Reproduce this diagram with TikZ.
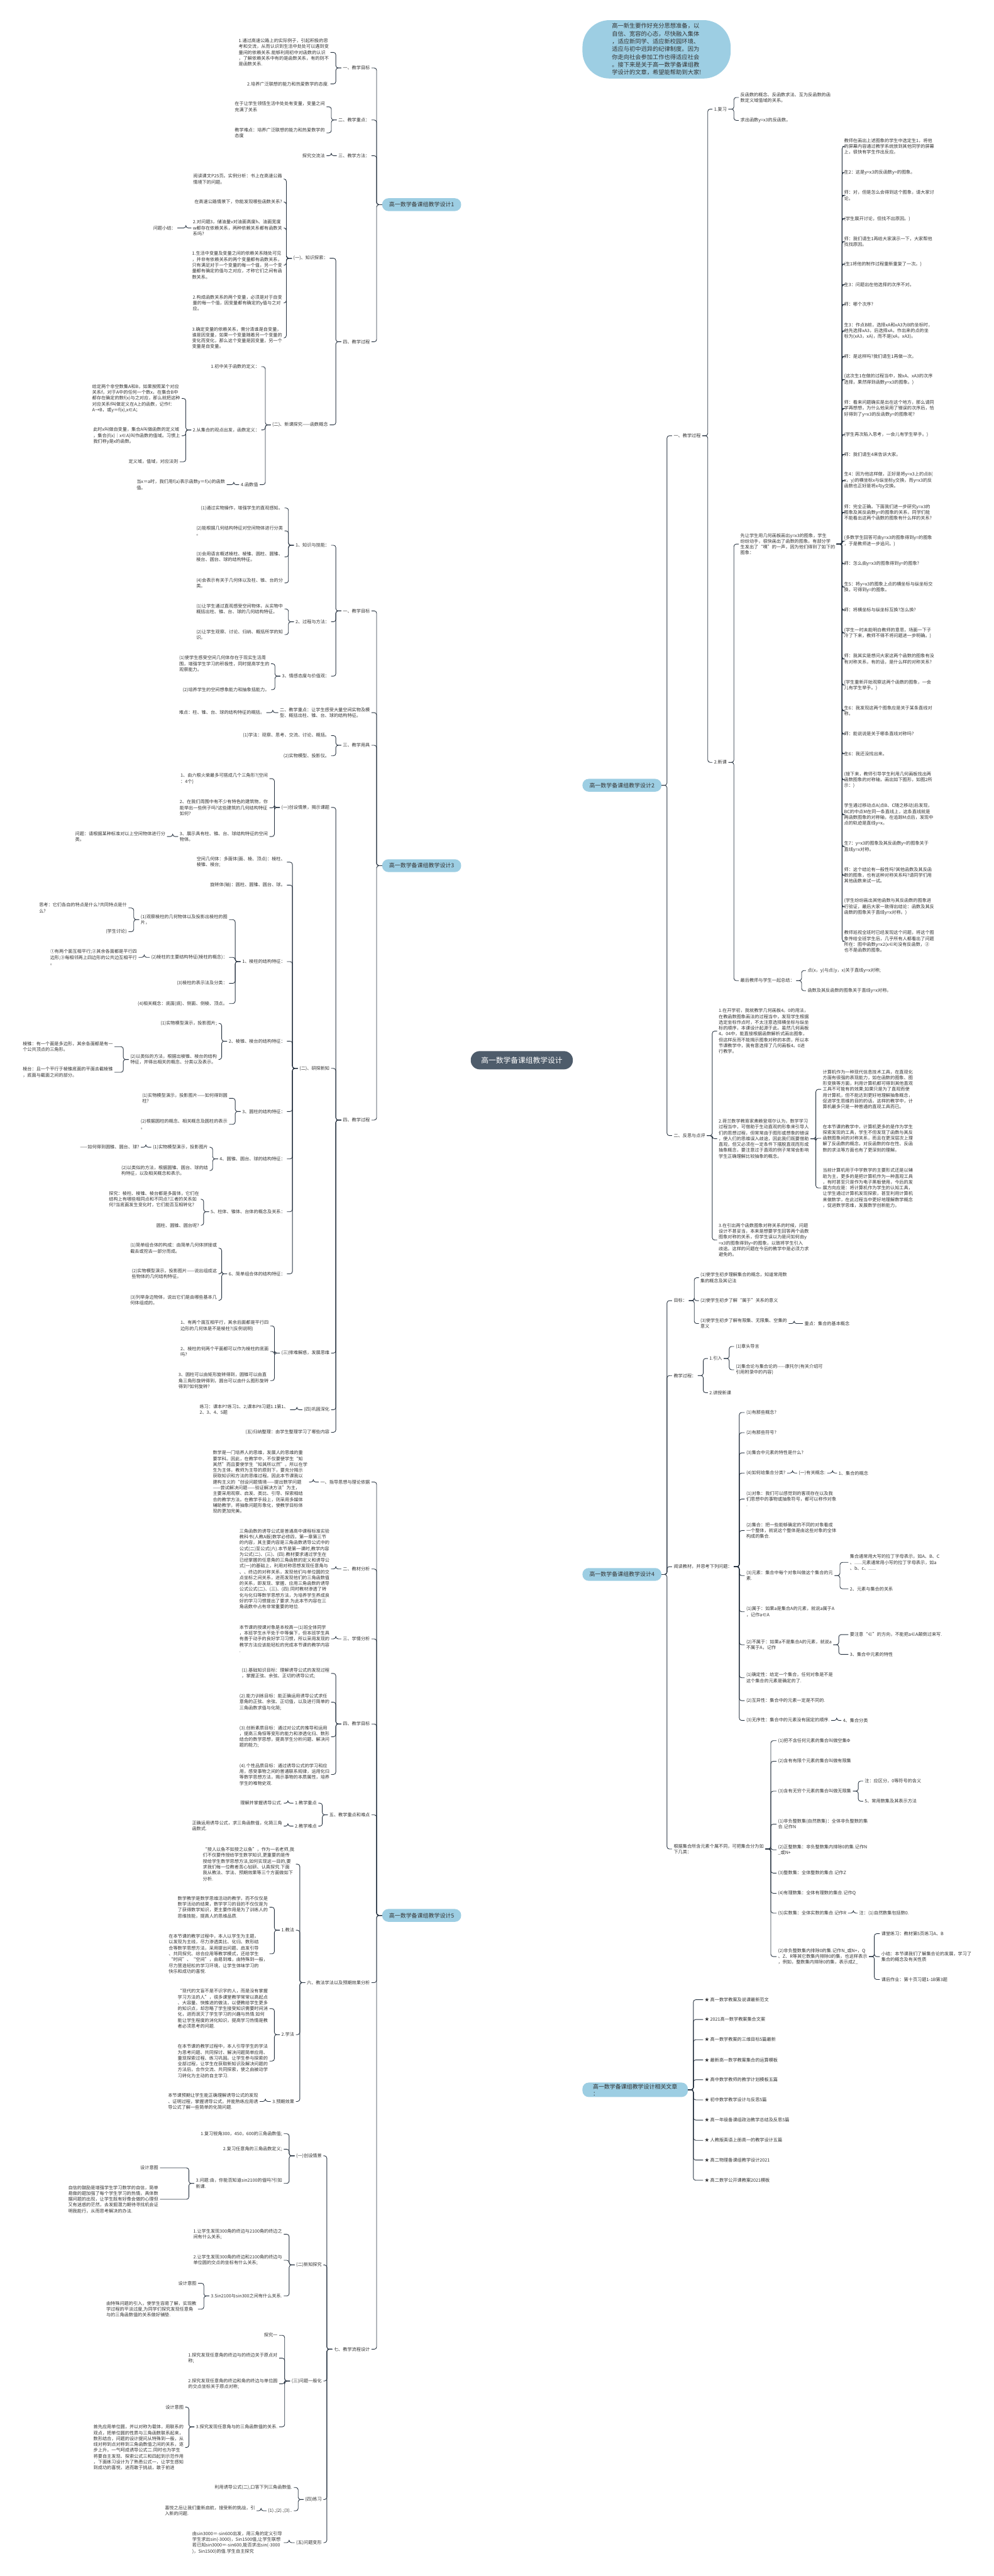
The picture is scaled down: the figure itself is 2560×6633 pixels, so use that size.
\documentclass[tikz,border=0pt]{standalone}
\usepackage{fontspec}
\setmainfont{Noto Sans CJK SC}
\usepackage{tikz}
\usetikzlibrary{backgrounds}
\definecolor{mainblue}{RGB}{157,206,227}
\definecolor{rootc}{RGB}{78,92,107}
\definecolor{linkc}{RGB}{38,50,64}
\definecolor{txt}{RGB}{51,51,51}
\begin{document}
\begin{tikzpicture}[x=1pt,y=-1pt,
  link/.style={draw=linkc,line width=1.4pt,rounded corners=6pt},
  leaf/.style={font=\fontsize{11.6}{15}\selectfont,text=txt,align=left,inner xsep=4pt,inner ysep=1pt},
  lt/.style={leaf,anchor=east,xshift=4pt},
  rt/.style={leaf,anchor=west,xshift=-4pt},
  main/.style={fill=mainblue,text=txt,rounded corners=16pt,minimum height=33pt,inner xsep=18pt,font=\fontsize{14.5}{18}\selectfont}]
\fill[white] (0,0) rectangle (2560,6633);
\useasboundingbox (0,0) rectangle (2560,6633);

% centre and main topics
\node[fill=rootc,text=white,rounded corners=23pt,minimum height=47pt,inner xsep=27pt,font=\fontsize{19}{23}\selectfont] (root) at (1344,2730) {高一数学备课组教学设计};
\node[fill=mainblue,text=txt,rounded corners=70pt,inner xsep=76pt,inner ysep=8pt,align=left,anchor=west,font=\fontsize{15}{20}\selectfont] (intro) at (1500,127) {高一新生要作好充分思想准备，以\\自信、宽容的心态，尽快融入集体\\，适应新同学、适应新校园环境、\\适应与初中迥异的纪律制度。因为\\你走向社会参加工作也得适应社会\\。接下来是关于高一数学备课组教\\学设计的文章，希望能帮助到大家!};
\node[main,anchor=east] (d1) at (1188,527) {高一数学备课组教学设计1};
\node[main,anchor=west] (d2) at (1500,2022) {高一数学备课组教学设计2};
\node[main,anchor=east] (d3) at (1188,2229) {高一数学备课组教学设计3};
\node[main,anchor=west] (d4) at (1500,4054) {高一数学备课组教学设计4};
\node[main,anchor=east] (d5) at (1188,4932) {高一数学备课组教学设计5};
\node[main,anchor=west,align=left,inner xsep=27pt] (d6) at (1500,5381) {高一数学备课组教学设计相关文章\\：};

% design 1
\node[lt] (t1a) at (953,175) {一、教学目标};
\node[lt] (t1a1) at (847,135) {1.通过高速公路上的实际例子，引起积极的思\\考和交流，从而认识到生活中处处可以遇到变\\量间的依赖关系.能够利用初中对函数的认识\\，了解依赖关系中有的是函数关系，有的则不\\是函数关系.};
\node[lt] (t1a2) at (847,216) {2.培养广泛联想的能力和热爱数学的态度.};
\node[lt] (t1b) at (953,309) {二、教学重点：};
\node[lt] (t1b1) at (837,275) {在于让学生领悟生活中处处有变量，变量之间\\充满了关系};
\node[lt] (t1b2) at (837,342) {教学难点：培养广泛联想的能力和热爱数学的\\态度};
\node[lt] (t1c) at (953,401) {三、教学方法：};
\node[lt] (t1c1) at (837,401) {探究交流法};
\node[lt] (t1d) at (953,880) {四、教学过程};
\node[lt] (t1d1) at (845,665) {(一)、知识探索：};
\node[lt] (t1d1a) at (727,461) {阅读课文P25页。实例分析：书上在高速公路\\情境下的问题。};
\node[lt] (t1d1b) at (727,520) {在高速公路情景下，你能发现哪些函数关系?};
\node[lt] (t1d1c) at (727,587) {2.对问题3，储油量v对油面高度h、油面宽度\\w都存在依赖关系，两种依赖关系都有函数关\\系吗?};
\node[lt] (t1d1c1) at (453,587) {问题小结：};
\node[lt] (t1d1d) at (727,683) {1.生活中变量及变量之间的依赖关系随处可见\\，并非有依赖关系的两个变量都有函数关系，\\只有满足对于一个变量的每一个值，另一个变\\量都有确定的值与之对应，才称它们之间有函\\数关系。};
\node[lt] (t1d1e) at (727,780) {2.构成函数关系的两个变量，必须是对于自变\\量的每一个值，因变量都有确定的y值与之对\\应。};
\node[lt] (t1d1f) at (727,870) {3.确定变量的依赖关系，需分清谁是自变量，\\谁是因变量，如果一个变量随着另一个变量的\\变化而变化，那么这个变量是因变量，另一个\\变量是自变量。};
\node[lt] (t1d2) at (845,1094) {(二)、新课探究——函数概念};
\node[lt] (t1d2a) at (669,944) {1.初中关于函数的定义：};
\node[lt] (t1d2b) at (669,1107) {2.从集合的观点出发，函数定义：};
\node[lt] (t1d2b1) at (464,1026) {给定两个非空数集A和B，如果按照某个对应\\关系f，对于A中的任何一个数x，在集合B中\\都存在确定的数f(x)与之对应，那么就把这种\\对应关系f叫做定义在A上的函数，记作f：\\A→B，或y＝f(x),x∈A；};
\node[lt] (t1d2b2) at (464,1122) {此时x叫做自变量，集合A叫做函数的定义域\\，集合\{f(x)｜x∈A\}叫作函数的值域。习惯上\\我们称y是x的函数。};
\node[lt] (t1d2b3) at (459,1189) {定义域，值域，对应法则};
\node[lt] (t1d2c) at (665,1248) {4.函数值};
\node[lt] (t1d2c1) at (580,1248) {当x＝a时，我们用f(a)表示函数y＝f(x)的函数\\值。};

% design 3
\node[lt] (t3a) at (953,1573) {一、教学目标};
\node[lt] (t3a1) at (849,1404) {1、知识与技能：};
\node[lt] (t3a1a) at (729,1308) {(1)通过实物操作，增强学生的直观感知。};
\node[lt] (t3a1b) at (729,1367) {(2)能根据几何结构特征对空间物体进行分类\\。};
\node[lt] (t3a1c) at (729,1434) {(3)会用语言概述棱柱、棱锥、圆柱、圆锥、\\棱台、圆台、球的结构特征。};
\node[lt] (t3a1d) at (729,1501) {(4)会表示有关于几何体以及柱、锥、台的分\\类。};
\node[lt] (t3a2) at (849,1601) {2、过程与方法：};
\node[lt] (t3a2a) at (729,1568) {(1)让学生通过直观感受空间物体，从实物中\\概括出柱、锥、台、球的几何结构特征。};
\node[lt] (t3a2b) at (729,1634) {(2)让学生观察、讨论、归纳、概括所学的知\\识。};
\node[lt] (t3a3) at (849,1741) {3、情感态度与价值观：};
\node[lt] (t3a3a) at (694,1709) {(1)使学生感受空间几何体存在于现实生活周\\围，增强学生学习的积极性，同时提高学生的\\观察能力。};
\node[lt] (t3a3b) at (694,1776) {(2)培养学生的空间想象能力和抽象括能力。};
\node[lt] (t3b) at (953,1835) {二、教学重点：让学生感受大量空间实物及模\\型、概括出柱、锥、台、球的结构特征。};
\node[lt] (t3b1) at (682,1835) {难点：柱、锥、台、球的结构特征的概括。};
\node[lt] (t3c) at (953,1919) {三、教学用具};
\node[lt] (t3c1) at (849,1894) {(1)学法：观察、思考、交流、讨论、概括。};
\node[lt] (t3c2) at (849,1946) {(2)实物模型、投影仪。};
\node[lt] (t3d) at (953,2884) {四、教学过程};
\node[lt] (t3d1) at (849,2079) {(一)创设情景，揭示课题};
\node[lt] (t3d1a) at (690,2005) {1、由六根火柴最多可搭成几个三角形?(空间\\：4个)};
\node[lt] (t3d1b) at (690,2080) {2、在我们周围中有不少有特色的建筑物，你\\能举出一些例子吗?这些建筑的几何结构特征\\如何?};
\node[lt] (t3d1c) at (690,2154) {3、展示具有柱、锥、台、球结构特征的空间\\物体。};
\node[lt] (t3d1c1) at (426,2154) {问题：请根据某种标准对以上空间物体进行分\\类。};
\node[lt] (t3d2) at (849,2751) {(二)、研探新知};
\node[lt] (t3d2a) at (735,2220) {空间几何体：多面体(面、棱、顶点)：棱柱、\\棱锥、棱台;};
\node[lt] (t3d2b) at (735,2279) {旋转体(轴)：圆柱、圆锥、圆台、球。};
\node[lt] (t3d2c) at (735,2476) {1、棱柱的结构特征：};
\node[lt] (t3d2c1) at (586,2368) {(1)观察棱柱的几何物体以及投影出棱柱的图\\片，};
\node[lt] (t3d2c1a) at (327,2338) {思考：它们各自的特点是什么?共同特点是什\\么?};
\node[lt] (t3d2c1b) at (327,2399) {(学生讨论)};
\node[lt] (t3d2c2) at (586,2465) {(2)棱柱的主要结构特征(棱柱的概念)：};
\node[lt] (t3d2c2a) at (353,2465) {①有两个面互相平行;②其余各面都是平行四\\边形;③每相邻两上四边形的公共边互相平行\\。};
\node[lt] (t3d2c3) at (586,2532) {(3)棱柱的表示法及分类：};
\node[lt] (t3d2c4) at (586,2584) {(4)相关概念：底面(底)、侧面、侧棱、顶点。};
\node[lt] (t3d2d) at (735,2681) {2、棱锥、棱台的结构特征：};
\node[lt] (t3d2d1) at (559,2635) {(1)实物模型演示，投影图片;};
\node[lt] (t3d2d2) at (559,2728) {(2)以类似的方法，根据出棱锥、棱台的结构\\特征，并得出相关的概念、分类以及表示。};
\node[lt] (t3d2d2a) at (291,2695) {棱锥：有一个面是多边形，其余各面都是有一\\个公共顶点的三角形。};
\node[lt] (t3d2d2b) at (291,2761) {棱台：且一个平行于棱锥底面的平面去截棱锥\\，底面与截面之间的部分。};
\node[lt] (t3d2e) at (735,2862) {3、圆柱的结构特征：};
\node[lt] (t3d2e1) at (586,2828) {(1)实物模型演示，投影图片——如何得到圆\\柱?};
\node[lt] (t3d2e2) at (586,2895) {(2)根据圆柱的概念、相关概念及圆柱的表示\\。};
\node[lt] (t3d2f) at (735,2984) {4、圆锥、圆台、球的结构特征：};
\node[lt] (t3d2f1) at (536,2954) {(1)实物模型演示，投影图片};
\node[lt] (t3d2f1a) at (359,2954) {——如何得到圆锥、圆台、球?};
\node[lt] (t3d2f2) at (536,3014) {(2)以类似的方法，根据圆锥、圆台、球的结\\构特征，以及相关概念和表示。};
\node[lt] (t3d2g) at (735,3120) {5、柱体、锥体、台体的概念及关系：};
\node[lt] (t3d2g1) at (513,3088) {探究：棱柱、棱锥、棱台都是多面体，它们在\\结构上有哪些相同点和不同点?三者的关系如\\何?当底面发生变化时，它们能否互相转化?};
\node[lt] (t3d2g2) at (513,3155) {圆柱、圆锥、圆台呢?};
\node[lt] (t3d2h) at (735,3280) {6、简单组合体的结构特征：};
\node[lt] (t3d2h1) at (559,3214) {(1)简单组合体的构成：由简单几何体拼接或\\截去或挖去一部分而成。};
\node[lt] (t3d2h2) at (559,3280) {(2)实物模型演示，投影图片——说出组成这\\些物体的几何结构特征。};
\node[lt] (t3d2h3) at (559,3348) {(3)列举身边物体，说出它们是由哪些基本几\\何体组成的。};
\node[lt] (t3d3) at (849,3484) {(三)排难解惑，发展思维};
\node[lt] (t3d3a) at (692,3414) {1、有两个面互相平行，其余后面都是平行四\\边形的几何体是不是棱柱?(反例说明)};
\node[lt] (t3d3b) at (692,3480) {2、棱柱的何两个平面都可以作为棱柱的底面\\吗?};
\node[lt] (t3d3c) at (692,3555) {3、圆柱可以由矩形旋转得到，圆锥可以由直\\角三角形旋转得到，圆台可以由什么图形旋转\\得到?如何旋转?};
\node[lt] (t3d4) at (849,3630) {(四)巩固深化};
\node[lt] (t3d4a) at (743,3630) {练习：课本P7练习1、2;课本P8习题1.1第1、\\2、3、4、5题};
\node[lt] (t3d5) at (849,3688) {(五)归纳整理：由学生整理学习了哪些内容};

% design 5
\node[lt] (t5a) at (953,3816) {一、指导思想与理论依据};
\node[lt] (t5a1) at (792,3816) {数学是一门培养人的思维，发展人的思维的重\\要学科。因此，在教学中，不仅要使学生“知\\其然”而且要使学生“知其所以然”。所以在学\\生为主体，教师为主导的原则下，要充分揭示\\获取知识和方法的思维过程。因此本节课我以\\建构主义的“创设问题情境——提出数学问题\\——尝试解决问题——验证解决方法”为主，\\主要采用观察、启发、类比、引导、探索相结\\合的教学方法。在教学手段上，则采用多媒体\\辅助教学，将抽象问题形象化，使教学目标体\\现的更加完美。};
\node[lt] (t5b) at (953,4040) {二、教材分析};
\node[lt] (t5b1) at (849,4040) {三角函数的诱导公式是普通高中课程标准实验\\教科书(人教A版)数学必修四，第一章第三节\\的内容，其主要内容是三角函数诱导公式中的\\公式(二)至公式(六).本节是第一课时,教学内容\\为公式(二)、(三)、(四).教材要求通过学生在\\已经掌握的任意角的三角函数的定义和诱导公\\式(一)的基础上，利用对称思想发现任意角与\\、、终边的对称关系，发现他们与单位圆的交\\点坐标之间关系，进而发现他们的三角函数值\\的关系，即发现、掌握、应用三角函数的诱导\\公式公式(二)、(三)、(四).同时教材渗透了转\\化与化归等数学思想方法，为培养学生养成良\\好的学习习惯提出了要求.为此本节内容在三\\角函数中占有非常重要的地位.};
\node[lt] (t5c) at (953,4220) {三、学情分析};
\node[lt] (t5c1) at (849,4220) {本节课的授课对象是本校高一(1)班全体同学\\，本班学生水平处于中等偏下，但本班学生具\\有善于动手的良好学习习惯，所以采用发现的\\教学方法应该能轻松的完成本节课的教学内容\\.};
\node[lt] (t5d) at (953,4439) {四、教学目标};
\node[lt] (t5d1) at (849,4309) {(1).基础知识目标：理解诱导公式的发现过程\\，掌握正弦、余弦、正切的诱导公式;};
\node[lt] (t5d2) at (849,4383) {(2).能力训练目标：能正确运用诱导公式求任\\意角的正弦、余弦、正切值，以及进行简单的\\三角函数求值与化简;};
\node[lt] (t5d3) at (849,4472) {(3).创新素质目标：通过对公式的推导和运用\\，提高三角恒等变形的能力和渗透化归、数形\\结合的数学思想，提高学生分析问题、解决问\\题的能力;};
\node[lt] (t5d4) at (849,4569) {(4).个性品质目标：通过诱导公式的学习和应\\用，感受事物之间的普通联系规律，运用化归\\等数学思想方法，揭示事物的本质属性，培养\\学生的唯物史观.};
\node[lt] (t5e) at (953,4673) {五、教学重点和难点};
\node[lt] (t5e1) at (816,4643) {1.教学重点};
\node[lt] (t5e1a) at (727,4643) {理解并掌握诱导公式.};
\node[lt] (t5e2) at (816,4702) {2.教学难点};
\node[lt] (t5e2a) at (727,4702) {正确运用诱导公式，求三角函数值，化简三角\\函数式.};
\node[lt] (t5f) at (953,5105) {六、教法学法以及预期效果分析};
\node[lt] (t5f1) at (758,4800) {“授人以鱼不如授之以鱼”，作为一名老师,我\\们不仅要传授给学生数学知识,更重要的是传\\授给学生数学思想方法,如何实现这一目的,要\\求我们每一位教者苦心钻研、认真探究.下面\\我从教法、学法、预期效果等三个方面做如下\\分析.};
\node[lt] (t5f2) at (758,4970) {1.教法};
\node[lt] (t5f2a) at (690,4911) {数学教学是数学思维活动的教学，而不仅仅是\\数学活动的结果，数学学习的目的不仅仅是为\\了获得数学知识，更主要作用是为了训练人的\\思维技能，提高人的思维品质.};
\node[lt] (t5f2b) at (690,5031) {在本节课的教学过程中，本人以学生为主题，\\以发现为主线，尽力渗透类比、化归、数形结\\合等数学思想方法，采用提出问题、启发引导\\、共同探究、综合应用等教学模式，还给学生\\“时间”、“空间”，由易到难，由特殊到一般，\\尽力营造轻松的学习环境，让学生体味学习的\\快乐和成功的喜悦.};
\node[lt] (t5f3) at (758,5239) {2.学法};
\node[lt] (t5f3a) at (690,5172) {“现代的文盲不是不识字的人，而是没有掌握\\学习方法的人”，很多课堂教学常常以高起点\\、大容量、快推进的做法，以便教给学生更多\\的知识点，却忽略了学生接受知识需要时间消\\化，进而泯灭了学生学习的兴趣与热情.如何\\能让学生程度的消化知识，提高学习热情是教\\者必须思考的问题.};
\node[lt] (t5f3b) at (690,5307) {在本节课的教学过程中，本人引导学生的学法\\为思考问题、共同探讨、解决问题简单应用、\\重现探索过程、练习巩固。让学生参与探索的\\全部过程，让学生在获取新知识及解决问题的\\方法后，合作交流、共同探索，使之由被动学\\习转化为主动的自主学习.};
\node[lt] (t5f4) at (758,5411) {3.预期效果};
\node[lt] (t5f4a) at (665,5411) {本节课预期让学生能正确理解诱导公式的发现\\、证明过程，掌握诱导公式，并能熟练应用诱\\导公式了解一些简单的化简问题.};
\node[lt] (t5g) at (953,6049) {七、教学流程设计};
\node[lt] (t5g1) at (829,5551) {(一)创设情景};
\node[lt] (t5g1a) at (727,5494) {1.复习锐角300，450，600的三角函数值;};
\node[lt] (t5g1b) at (727,5534) {2.复习任意角的三角函数定义;};
\node[lt] (t5g1c) at (727,5622) {3.问题:由，你能否知道sin2100的值吗?引如\\新课.};
\node[lt] (t5g1c1) at (408,5582) {设计意图};
\node[lt] (t5g1c2) at (408,5663) {自信的鼓励是增强学生学习数学的自信，简单\\易做的题加强了每个学生学习的热情，具体数\\据问题的出现，让学生既有好像会做的心理但\\又有迷惑的茫然，去发掘潜力期待寻找机会证\\明我能行，从而思考解决的办法.};
\node[lt] (t5g2) at (829,5832) {(二)新知探究};
\node[lt] (t5g2a) at (727,5753) {1.让学生发现300角的终边与2100角的终边之\\间有什么关系;};
\node[lt] (t5g2b) at (727,5820) {2.让学生发现300角的终边和2100角的终边与\\单位圆的交点的坐标有什么关系;};
\node[lt] (t5g2c) at (727,5912) {3.Sin2100与sin300之间有什么关系.};
\node[lt] (t5g2c1) at (506,5879) {设计意图};
\node[lt] (t5g2c2) at (506,5946) {由特殊问题的引入，使学生容易了解，实现教\\学过程的平淡过度,为同学们探究发现任意角\\与的三角函数值的关系做好铺垫.};
\node[lt] (t5g3) at (829,6131) {(三)问题一般化};
\node[lt] (t5g3a) at (715,6013) {探究一};
\node[lt] (t5g3b) at (715,6072) {1.探究发现任意角的终边与的终边关于原点对\\称;};
\node[lt] (t5g3c) at (715,6138) {2.探究发现任意角的终边和角的终边与单位圆\\的交点坐标关于原点对称;};
\node[lt] (t5g3d) at (715,6249) {3.探究发现任意角与的三角函数值的关系.};
\node[lt] (t5g3d1) at (473,6198) {设计意图};
\node[lt] (t5g3d2) at (473,6302) {首先应用单位圆，并以对称为载体，用联系的\\观点，把单位圆的性质与三角函数联系起来，\\数形结合，问题的设计提问从特殊到一般，从\\线对称到点对称到三角函数值之间的关系，逐\\步上升，一气呵成诱导公式二.同时也为学生\\将要自主发现、探索公式三和四起到示范作用\\，下面练习设计为了熟悉公式一，让学生感知\\到成功的喜悦，进而敢于挑战，敢于前进};
\node[lt] (t5g4) at (829,6436) {(四)练习};
\node[lt] (t5g4a) at (753,6405) {利用诱导公式(二),口答下列三角函数值.};
\node[lt] (t5g4b) at (753,6465) {(1).;(2).;(3)..};
\node[lt] (t5g4b1) at (657,6465) {喜悦之后让我们重新启航，接受新的挑战，引\\入新的问题.};
\node[lt] (t5g5) at (829,6547) {(五)问题变形};
\node[lt] (t5g5a) at (727,6547) {由sin3000＝-sin600出发，用三角的定义引导\\学生求出sin(-3000)，Sin1500值,让学生联想\\若已知sin3000＝-sin600,能否求出sin(-3000\\)，Sin1500)的值.学生自主探究};

% design 2
\node[rt] (t2a) at (1735,1122) {一、教学过程};
\node[rt] (t2a1) at (1839,281) {1.复习};
\node[rt] (t2a1a) at (1907,251) {反函数的概念、反函数求法、互为反函数的函\\数定义域值域的关系。};
\node[rt] (t2a1b) at (1907,310) {求出函数y=x3的反函数。};
\node[rt] (t2a2) at (1839,1963) {2.新课};
\node[rt] (t2a2a) at (1907,1401) {先让学生用几何画板画出y=x3的图象，学生\\纷纷动手，很快画出了函数的图象。有部分学\\生发出了“咦”的一声，因为他们得到了如下的\\图象：};
\node[rt] (t2s1) at (2174,377) {教师在画出上述图象的学生中选定生1，将他\\的屏幕内容通过教学系统放到其他同学的屏幕\\上，很快有学生作出反应。};
\node[rt] (t2s2) at (2174,444) {生2：这是y=x3的反函数y=的图象。};
\node[rt] (t2s3) at (2174,503) {师：对，但是怎么会得到这个图象，请大家讨\\论。};
\node[rt] (t2s4) at (2174,563) {(学生展开讨论，但找不出原因。)};
\node[rt] (t2s5) at (2174,622) {师：我们请生1再给大家演示一下，大家帮他\\找找原因。};
\node[rt] (t2s6) at (2174,680) {(生1将他的制作过程重新重复了一次。)};
\node[rt] (t2s7) at (2174,733) {生3：问题出在他选择的次序不对。};
\node[rt] (t2s8) at (2174,784) {师：哪个次序?};
\node[rt] (t2s9) at (2174,852) {生3：作点B前，选择xA和xA3为B的坐标时，\\他先选择xA3，后选择xA，作出来的点的坐\\标为(xA3，xA)，而不是(xA，xA3)。};
\node[rt] (t2s10) at (2174,918) {师：是这样吗?我们请生1再做一次。};
\node[rt] (t2s11) at (2174,977) {(这次生1在做的过程当中，按xA、xA3的次序\\选择，果然得到函数y=x3的图象。)};
\node[rt] (t2s12) at (2174,1052) {师：看来问题确实是出在这个地方，那么请同\\学再想想，为什么他采用了错误的次序后，恰\\好得到了y=x3的反函数y=的图象呢?};
\node[rt] (t2s13) at (2174,1119) {(学生再次陷入思考，一会儿有学生举手。)};
\node[rt] (t2s14) at (2174,1170) {师：我们请生4来告诉大家。};
\node[rt] (t2s15) at (2174,1237) {生4：因为他这样做，正好是将y=x3上的点B(\\x，y)的横坐标x与纵坐标y交换，而y=x3的反\\函数也正好是将x与y交换。};
\node[rt] (t2s16) at (2174,1319) {师：完全正确。下面我们进一步研究y=x3的\\图象及其反函数y=的图象的关系，同学们能\\不能看出这两个函数的图象有什么样的关系?};
\node[rt] (t2s17) at (2174,1393) {(多数学生回答可由y=x3的图象得到y=的图象\\，于是教师进一步追问。)};
\node[rt] (t2s18) at (2174,1452) {师：怎么由y=x3的图象得到y=的图象?};
\node[rt] (t2s19) at (2174,1512) {生5：将y=x3的图象上点的横坐标与纵坐标交\\换，可得到y=的图象。};
\node[rt] (t2s20) at (2174,1571) {师：将横坐标与纵坐标互换?怎么换?};
\node[rt] (t2s21) at (2174,1630) {(学生一时未能明白教师的意思，场面一下子\\冷了下来，教师不得不将问题进一步明确。)};
\node[rt] (t2s22) at (2174,1697) {师：我其实是想问大家这两个函数的图象有没\\有对称关系，有的话，是什么样的对称关系?};
\node[rt] (t2s23) at (2174,1764) {(学生重新开始观察这两个函数的图象，一会\\儿有学生举手。)};
\node[rt] (t2s24) at (2174,1830) {生6：我发现这两个图象应是关于某条直线对\\称。};
\node[rt] (t2s25) at (2174,1890) {师：能说说是关于哪条直线对称吗?};
\node[rt] (t2s26) at (2174,1941) {生6：我还没找出来。};
\node[rt] (t2s27) at (2174,2008) {(接下来，教师引导学生利用几何画板找出两\\函数图象的对称轴，画出如下图形，如图2所\\示：)};
\node[rt] (t2s28) at (2174,2098) {学生通过移动点A(点B、C随之移动)后发现，\\BC的中点M在同一条直线上，这条直线就是\\两函数图象的对称轴，在追踪M点后，发现中\\点的轨迹是直线y=x。};
\node[rt] (t2s29) at (2174,2180) {生7：y=x3的图象及其反函数y=的图象关于\\直线y=x对称。};
\node[rt] (t2s30) at (2174,2254) {师：这个结论有一般性吗?其他函数及其反函\\数的图象，也有这种对称关系吗?请同学们用\\其他函数来试一试。};
\node[rt] (t2s31) at (2174,2335) {(学生纷纷画出其他函数与其反函数的图象进\\行验证，最后大家一致得出结论：函数及其反\\函数的图象关于直线y=x对称。)};
\node[rt] (t2s32) at (2174,2424) {教师巡视全班时已经发现这个问题，将这个图\\象传给全班学生后，几乎所有人都看出了问题\\所在：图中函数y=x2(x∈R)没有反函数，②\\也不是函数的图象。};
\node[rt] (t2a2b) at (1907,2525) {最后教师与学生一起总结：};
\node[rt] (t2a2b1) at (2080,2499) {点(x，y)与点(y，x)关于直线y=x对称;};
\node[rt] (t2a2b2) at (2080,2551) {函数及其反函数的图象关于直线y=x对称。};
\node[rt] (t2b) at (1735,2924) {二、反思与点评};
\node[rt] (t2b1) at (1851,2655) {1.在开学初，我就教学几何画板4。0的用法，\\在教函数图象画法的过程当中，发现学生根据\\选定坐标作点时，不太注意选择横坐标与纵坐\\标的顺序，本课设计起源于此。虽然几何画板\\4。04中，能直接根据函数解析式画出图象，\\但这样反而不能揭示图象对称的本质，所以本\\节课教学中，我有意选择了几何画板4。0进\\行教学。};
\node[rt] (t2b2) at (1851,2932) {2.荷兰数学教育家弗赖登塔尔认为，数学学习\\过程当中，可借助于生动直观的形象来引导人\\们的思想过程，但常常由于图形或想象的错误\\，使人们的思维误入歧途，因此我们既要借助\\直观，但又必须在一定条件下摆脱直观而形成\\抽象概念，要注意过于直观的例子常常会影响\\学生正确理解比较抽象的概念。};
\node[rt] (t2b2a) at (2119,2805) {计算机作为一种现代信息技术工具，在直观化\\方面有很强的表现能力，如在函数的图象、图\\形变换等方面，利用计算机都可得到其他直观\\工具不可能有的效果;如果只是为了直观而使\\用计算机，但不能达到更好地理解抽象概念，\\促进学生思维的目的的话，这样的教学中，计\\算机最多只是一种普通的直观工具而已。};
\node[rt] (t2b2b) at (2119,2931) {在本节课的教学中，计算机更多的是作为学生\\探索发现的工具，学生不但发现了函数与其反\\函数图象间的对称关系，而且在更深层次上理\\解了反函数的概念，对反函数的存在性、反函\\数的求法等方面也有了更深刻的理解。};
\node[rt] (t2b2c) at (2119,3059) {当前计算机用于中学数学的主要形式还是以辅\\助为主，更多的是把计算机作为一种直观工具\\，有时甚至只是作为电子黑板使用，今后的发\\展方向应是：将计算机作为学生的认知工具，\\让学生通过计算机发现探索，甚至利用计算机\\来做数学，在此过程当中更好地理解数学概念\\，促进数学思维，发展数学创新能力。};
\node[rt] (t2b3) at (1851,3193) {3.在引出两个函数图象对称关系的时候，问题\\设计不甚妥当，本来是想要学生回答两个函数\\图象对称的关系，但学生误以为是问如何由y\\=x3的图象得到y=的图象，以致将学生引入\\歧途。这样的问题在今后的教学中是必须力求\\避免的。};

% design 4
\node[rt] (t4a) at (1735,3349) {目标：};
\node[rt] (t4a1) at (1804,3290) {(1)使学生初步理解集合的概念，知道常用数\\集的概念及其记法};
\node[rt] (t4a2) at (1804,3349) {(2)使学生初步了解“属于”关系的意义};
\node[rt] (t4a3) at (1804,3408) {(3)使学生初步了解有限集、无限集、空集的\\意义};
\node[rt] (t4a3a) at (2072,3408) {重点：集合的基本概念};
\node[rt] (t4b) at (1735,3542) {教学过程：};
\node[rt] (t4b1) at (1827,3498) {1.引入};
\node[rt] (t4b1a) at (1895,3467) {(1)章头导言};
\node[rt] (t4b1b) at (1895,3527) {(2)集合论与集合论的-{}-{}-{}-{}-康托尔(有关介绍可\\引用附录中的内容)};
\node[rt] (t4b2) at (1827,3586) {2.讲授新课};
\node[rt] (t4c) at (1735,4034) {阅读教材，并思考下列问题：};
\node[rt] (t4c1) at (1922,3637) {(1)有那些概念?};
\node[rt] (t4c2) at (1922,3689) {(2)有那些符号?};
\node[rt] (t4c3) at (1922,3741) {(3)集合中元素的特性是什么?};
\node[rt] (t4c4) at (1922,3793) {(4)如何给集合分类?};
\node[rt] (t4c4a) at (2057,3793) {(一)有关概念:};
\node[rt] (t4c4b) at (2160,3793) {1、集合的概念};
\node[rt] (t4c5) at (1922,3860) {(1)对象：我们可以感觉到的客观存在以及我\\们思想中的事物或抽象符号，都可以称作对象\\.};
\node[rt] (t4c6) at (1922,3941) {(2)集合：把一些能够确定的不同的对象看成\\一个整体，就说这个整体是由这些对象的全体\\构成的集合.};
\node[rt] (t4c7) at (1922,4057) {(3)元素：集合中每个对象叫做这个集合的元\\素.};
\node[rt] (t4c7a) at (2189,4023) {集合通常用大写的拉丁字母表示，如A、B、C\\、......元素通常用小写的拉丁字母表示，如a\\、b、c、......};
\node[rt] (t4c7b) at (2189,4091) {2、元素与集合的关系};
\node[rt] (t4c8) at (1922,4150) {(1)属于：如果a是集合A的元素，就说a属于A\\，记作a∈A};
\node[rt] (t4c9) at (1922,4235) {(2)不属于：如果a不是集合A的元素，就说a\\不属于A，记作};
\node[rt] (t4c9a) at (2189,4209) {要注意“∈”的方向，不能把a∈A颠倒过来写.};
\node[rt] (t4c9b) at (2189,4260) {3、集合中元素的特性};
\node[rt] (t4c10) at (1922,4320) {(1)确定性：给定一个集合，任何对象是不是\\这个集合的元素是确定的了.};
\node[rt] (t4c11) at (1922,4379) {(2)互异性：集合中的元素一定是不同的.};
\node[rt] (t4c12) at (1922,4430) {(3)无序性：集合中的元素没有固定的顺序.};
\node[rt] (t4c12a) at (2171,4430) {4、集合分类};
\node[rt] (t4d) at (1735,4761) {根据集合所含元素个属不同，可把集合分为如\\下几类：};
\node[rt] (t4d1) at (2004,4482) {(1)把不含任何元素的集合叫做空集Φ};
\node[rt] (t4d2) at (2004,4535) {(2)含有有限个元素的集合叫做有限集};
\node[rt] (t4d3) at (2004,4612) {(3)含有无穷个元素的集合叫做无限集};
\node[rt] (t4d3a) at (2227,4586) {注：应区分，0等符号的含义};
\node[rt] (t4d3b) at (2227,4638) {5、常用数集及其表示方法};
\node[rt] (t4d4) at (2004,4697) {(1)非负整数集(自然数集)：全体非负整数的集\\合.记作N};
\node[rt] (t4d5) at (2004,4763) {(2)正整数集：非负整数集内排除0的集.记作N\\\_或N+};
\node[rt] (t4d6) at (2004,4823) {(3)整数集：全体整数的集合.记作Z};
\node[rt] (t4d7) at (2004,4875) {(4)有理数集：全体有理数的集合.记作Q};
\node[rt] (t4d8) at (2004,4926) {(5)实数集：全体实数的集合.记作R};
\node[rt] (t4d8a) at (2213,4926) {注：(1)自然数集包括数0.};
\node[rt] (t4d9) at (2004,5038) {(2)非负整数集内排除0的集.记作N\_或N+，Q\\、Z、R等其它数集内排除0的集，也这样表示\\，例如，整数集内排除0的集，表示成Z\_};
\node[rt] (t4d9a) at (2270,4979) {课堂练习：教材第5页练习A、B};
\node[rt] (t4d9b) at (2270,5038) {小结：本节课我们了解集合论的发展，学习了\\集合的概念及有关性质};
\node[rt] (t4d9c) at (2270,5097) {课后作业：第十页习题1-1B第3题};

% related articles
\foreach \y/\t [count=\i] in {5149/高一数学教案及说课最新范文,5200/2021高一数学教案集合文案,5252/高一数学教案的三维目标5篇最新,5304/最新高一数学教案集合的运算模板,5355/高中数学教师的教学计划模板五篇,5407/初中数学教学设计与反思5篇,5459/高一年级备课组政治教学总结及反思5篇,5511/人教版英语上册高一的教学设计五篇,5562/高二物理备课组教学设计2021,5614/高二数学公开课教案2021模板}
  \node[rt] (t6\i) at (1815,\y) {★ \t};

% connectors
\begin{scope}[on background layer]
\foreach \m in {d1,d3,d5}
  \draw[link] (root.center) .. controls (root.center |- \m.east) .. (\m.east);
\foreach \m in {intro,d2,d4,d6}
  \draw[link] (root.center) .. controls (root.center |- \m.west) .. (\m.west);
\end{scope}
\foreach \p/\c in {d1/t1a,d1/t1b,d1/t1c,d1/t1d,t1a/t1a1,t1a/t1a2,t1b/t1b1,t1b/t1b2,t1c/t1c1,t1d/t1d1,t1d/t1d2,
  t1d1/t1d1a,t1d1/t1d1b,t1d1/t1d1c,t1d1/t1d1d,t1d1/t1d1e,t1d1/t1d1f,t1d1c/t1d1c1,
  t1d2/t1d2a,t1d2/t1d2b,t1d2/t1d2c,t1d2b/t1d2b1,t1d2b/t1d2b2,t1d2b/t1d2b3,t1d2c/t1d2c1,
  d3/t3a,d3/t3b,d3/t3c,d3/t3d,t3a/t3a1,t3a/t3a2,t3a/t3a3,t3a1/t3a1a,t3a1/t3a1b,t3a1/t3a1c,t3a1/t3a1d,
  t3a2/t3a2a,t3a2/t3a2b,t3a3/t3a3a,t3a3/t3a3b,t3b/t3b1,t3c/t3c1,t3c/t3c2,
  t3d/t3d1,t3d/t3d2,t3d/t3d3,t3d/t3d4,t3d/t3d5,t3d1/t3d1a,t3d1/t3d1b,t3d1/t3d1c,t3d1c/t3d1c1,
  t3d2/t3d2a,t3d2/t3d2b,t3d2/t3d2c,t3d2/t3d2d,t3d2/t3d2e,t3d2/t3d2f,t3d2/t3d2g,t3d2/t3d2h,
  t3d2c/t3d2c1,t3d2c/t3d2c2,t3d2c/t3d2c3,t3d2c/t3d2c4,t3d2c1/t3d2c1a,t3d2c1/t3d2c1b,t3d2c2/t3d2c2a,
  t3d2d/t3d2d1,t3d2d/t3d2d2,t3d2d2/t3d2d2a,t3d2d2/t3d2d2b,t3d2e/t3d2e1,t3d2e/t3d2e2,
  t3d2f/t3d2f1,t3d2f/t3d2f2,t3d2f1/t3d2f1a,t3d2g/t3d2g1,t3d2g/t3d2g2,t3d2h/t3d2h1,t3d2h/t3d2h2,t3d2h/t3d2h3,
  t3d3/t3d3a,t3d3/t3d3b,t3d3/t3d3c,t3d4/t3d4a,
  d5/t5a,d5/t5b,d5/t5c,d5/t5d,d5/t5e,d5/t5f,d5/t5g,t5a/t5a1,t5b/t5b1,t5c/t5c1,
  t5d/t5d1,t5d/t5d2,t5d/t5d3,t5d/t5d4,t5e/t5e1,t5e/t5e2,t5e1/t5e1a,t5e2/t5e2a,
  t5f/t5f1,t5f/t5f2,t5f/t5f3,t5f/t5f4,t5f2/t5f2a,t5f2/t5f2b,t5f3/t5f3a,t5f3/t5f3b,t5f4/t5f4a,
  t5g/t5g1,t5g/t5g2,t5g/t5g3,t5g/t5g4,t5g/t5g5,t5g1/t5g1a,t5g1/t5g1b,t5g1/t5g1c,t5g1c/t5g1c1,t5g1c/t5g1c2,
  t5g2/t5g2a,t5g2/t5g2b,t5g2/t5g2c,t5g2c/t5g2c1,t5g2c/t5g2c2,
  t5g3/t5g3a,t5g3/t5g3b,t5g3/t5g3c,t5g3/t5g3d,t5g3d/t5g3d1,t5g3d/t5g3d2,
  t5g4/t5g4a,t5g4/t5g4b,t5g4b/t5g4b1,t5g5/t5g5a}
  \draw[link] (\p.west) -- ++(-14pt,0) |- (\c.east);
\foreach \p/\c in {d2/t2a,d2/t2b,t2a/t2a1,t2a/t2a2,t2a1/t2a1a,t2a1/t2a1b,t2a2/t2a2a,t2a2/t2a2b,
  t2a2b/t2a2b1,t2a2b/t2a2b2,t2b/t2b1,t2b/t2b2,t2b/t2b3,t2b2/t2b2a,t2b2/t2b2b,t2b2/t2b2c,
  d4/t4a,d4/t4b,d4/t4c,d4/t4d,t4a/t4a1,t4a/t4a2,t4a/t4a3,t4a3/t4a3a,t4b/t4b1,t4b/t4b2,t4b1/t4b1a,t4b1/t4b1b,
  t4c/t4c1,t4c/t4c2,t4c/t4c3,t4c/t4c4,t4c/t4c5,t4c/t4c6,t4c/t4c7,t4c/t4c8,t4c/t4c9,t4c/t4c10,t4c/t4c11,t4c/t4c12,
  t4c4/t4c4a,t4c4a/t4c4b,t4c7/t4c7a,t4c7/t4c7b,t4c9/t4c9a,t4c9/t4c9b,t4c12/t4c12a,
  t4d/t4d1,t4d/t4d2,t4d/t4d3,t4d/t4d4,t4d/t4d5,t4d/t4d6,t4d/t4d7,t4d/t4d8,t4d/t4d9,
  t4d3/t4d3a,t4d3/t4d3b,t4d8/t4d8a,t4d9/t4d9a,t4d9/t4d9b,t4d9/t4d9c}
  \draw[link] (\p.east) -- ++(14pt,0) |- (\c.west);
\foreach \i in {1,...,32}
  \draw[link] (t2a2a.east) -- ++(14pt,0) |- (t2s\i.west);
\foreach \i in {1,...,10}
  \draw[link] (d6.east) -- ++(14pt,0) |- (t6\i.west);
\end{tikzpicture}
\end{document}
